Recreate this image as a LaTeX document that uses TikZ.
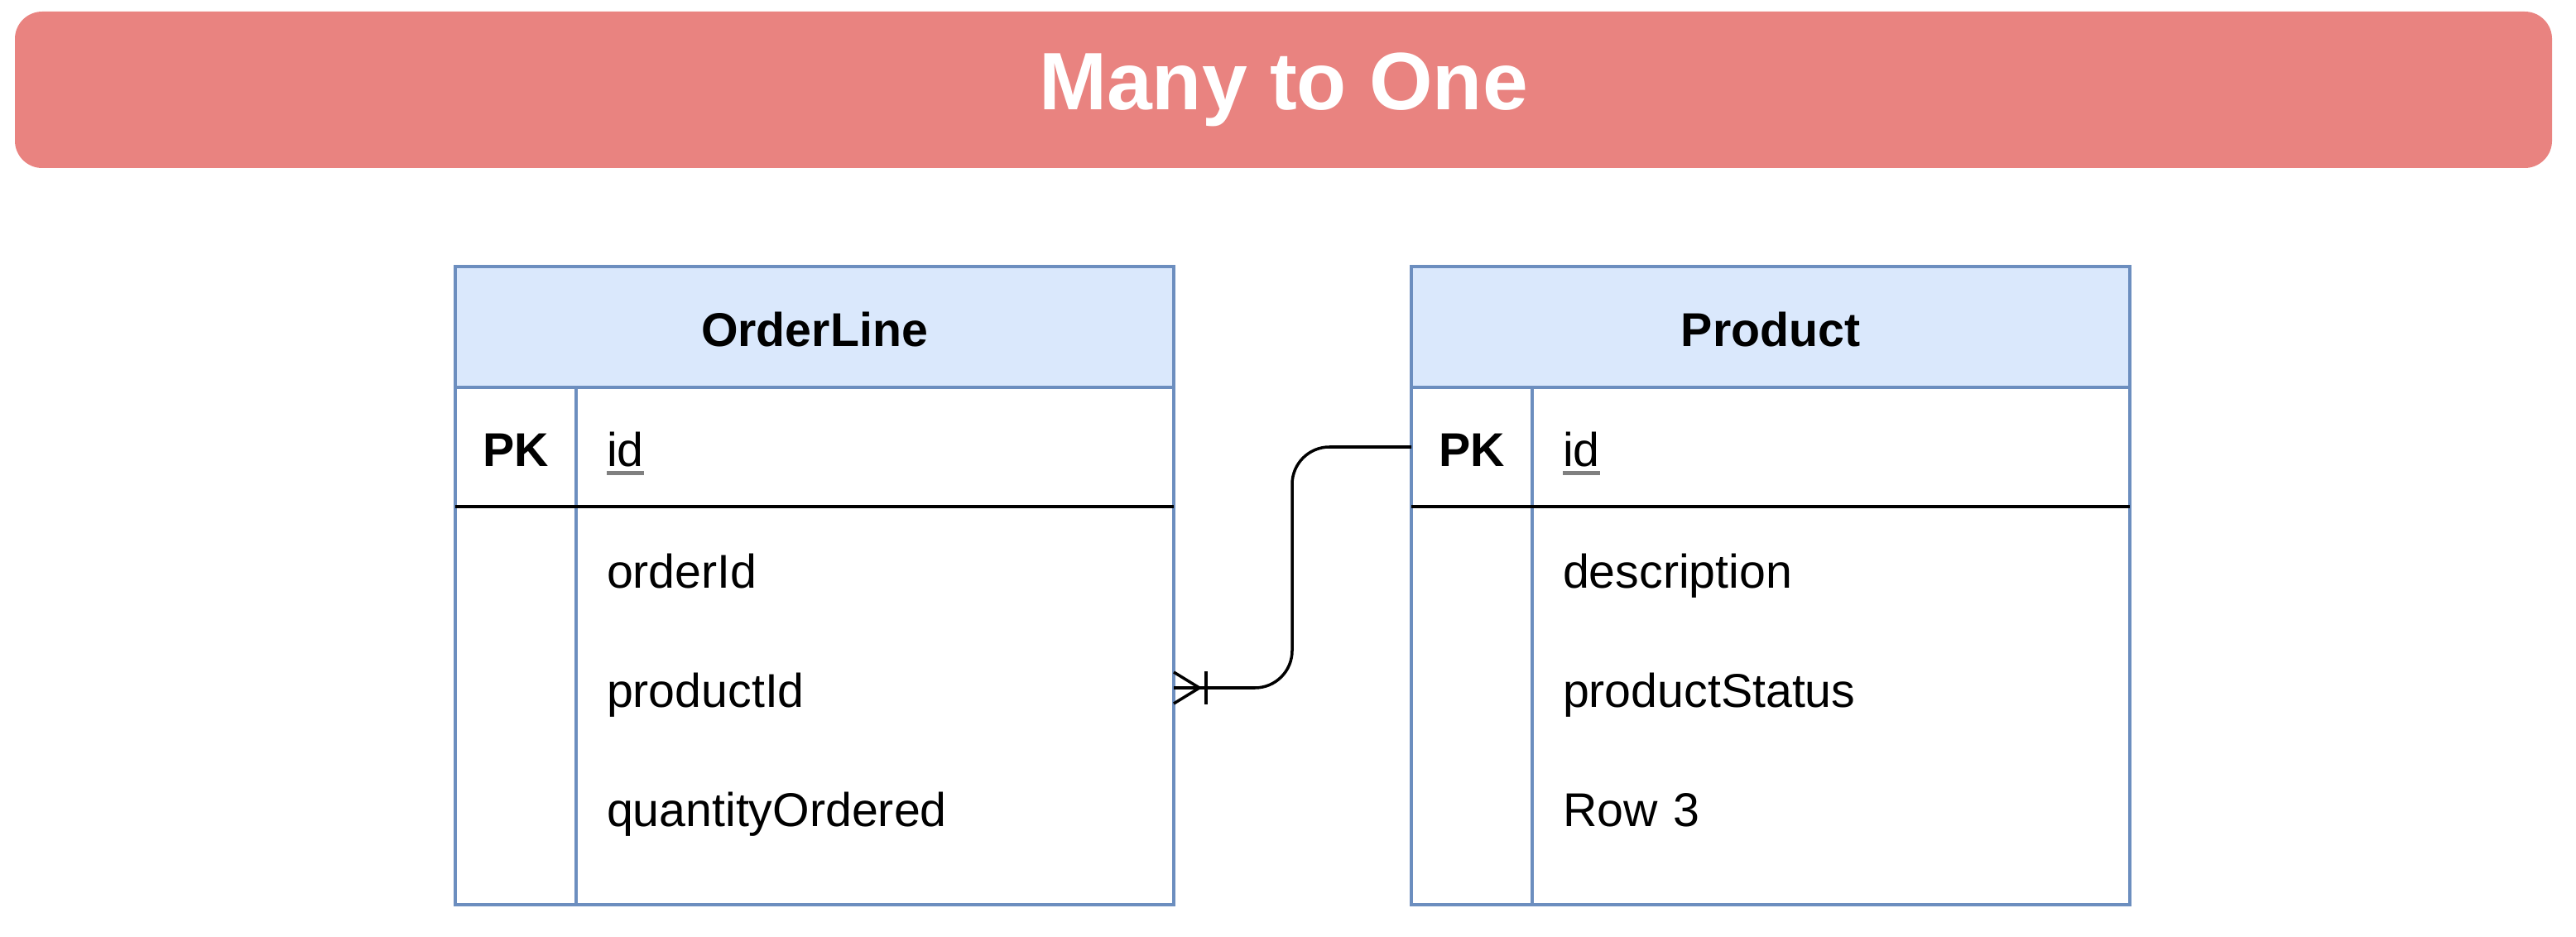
\documentclass[tikz,border=0pt]{standalone}
\usepackage{fontspec}
\setmainfont{Liberation Sans}
\usepackage{xcolor}
\usepackage{tikz}
\usetikzlibrary{positioning,calc}

\definecolor{bannerred}{HTML}{E98380}
\definecolor{headblue}{HTML}{DAE8FC}
\definecolor{edgeblue}{HTML}{6C8EBF}

\newcommand{\keyfield}[1]{\setbox0\hbox{#1}\rlap{\textcolor{gray}{\rule[-0.1cm]{\wd0}{0.05cm}}}\box0}

\begin{document}
\begin{tikzpicture}[
  outer sep=0pt,
  banner/.style={fill=bannerred,rounded corners=0.33cm,minimum width=30.65cm,
                 minimum height=1.89cm,text=white,
                 font=\fontsize{28}{34}\selectfont\bfseries},
  head/.style={draw=edgeblue,fill=headblue,line width=1.1pt,minimum width=8.68cm,
               minimum height=1.46cm,inner sep=0pt,text height=0.56cm,text depth=0.09cm,
               font=\fontsize{16.3}{20}\selectfont\bfseries},
  body/.style={draw=edgeblue,fill=white,line width=1.1pt,minimum width=8.68cm,
               minimum height=6.25cm,inner sep=0pt},
  pkcell/.style={minimum width=1.46cm,minimum height=1.44cm,inner sep=0pt,
                 text height=0.56cm,text depth=0.09cm,
                 font=\fontsize{16.3}{20}\selectfont\bfseries},
  field/.style={text width=6.48cm,align=left,inner xsep=0.37cm,inner ysep=0pt,
                minimum height=1.44cm,text height=0.56cm,text depth=0.09cm,
                font=\fontsize{16.3}{20}\selectfont},
  divider/.style={draw=edgeblue,line width=1.1pt},
  keyline/.style={draw=black,line width=1.1pt},
  rel/.style={draw=black,line width=1pt}
]
\useasboundingbox (0,0) rectangle (31.12,-11.32);

\node[banner] (title) at (15.505,-1.085) {Many to One};

% OrderLine table
\node[head,anchor=north west] (olHead) at (5.50,-3.22) {OrderLine};
\node[body,below=0pt of olHead] (olBody) {};
\node[pkcell,anchor=north west] (olPK) at (olBody.north west) {PK};
\node[field,right=0pt of olPK] (olId) {\keyfield{id}};
\node[field,below=0.03cm of olId] (olOrder) {orderId};
\node[field,below=0pt of olOrder] (olProd) {productId};
\node[field,below=0pt of olProd] (olQty) {quantityOrdered};
\draw[divider] (olPK.north east) -- (olPK.north east |- olBody.south);
\draw[keyline] (olPK.south west) -- (olPK.south west -| olBody.east);

% Product table
\node[head,right=2.87cm of olHead] (pdHead) {Product};
\node[body,below=0pt of pdHead] (pdBody) {};
\node[pkcell,anchor=north west] (pdPK) at (pdBody.north west) {PK};
\node[field,right=0pt of pdPK] (pdId) {\keyfield{id}};
\node[field,below=0.03cm of pdId] (pdDesc) {description};
\node[field,below=0pt of pdDesc] (pdStatus) {productStatus};
\node[field,below=0pt of pdStatus] (pdRow) {Row 3};
\draw[divider] (pdPK.north east) -- (pdPK.north east |- pdBody.south);
\draw[keyline] (pdPK.south west) -- (pdPK.south west -| pdBody.east);

% many to one relation
\draw[rel,rounded corners=0.45cm] (pdPK.west) -- ++(-1.44,0) |- (olProd.east);
\draw[rel] ($(olProd.east)+(0,0.19)$) -- ($(olProd.east)+(0.31,0)$)
  -- ($(olProd.east)+(0,-0.19)$);
\draw[rel] ($(olProd.east)+(0.39,0.2)$) -- ($(olProd.east)+(0.39,-0.2)$);
\end{tikzpicture}
\end{document}
